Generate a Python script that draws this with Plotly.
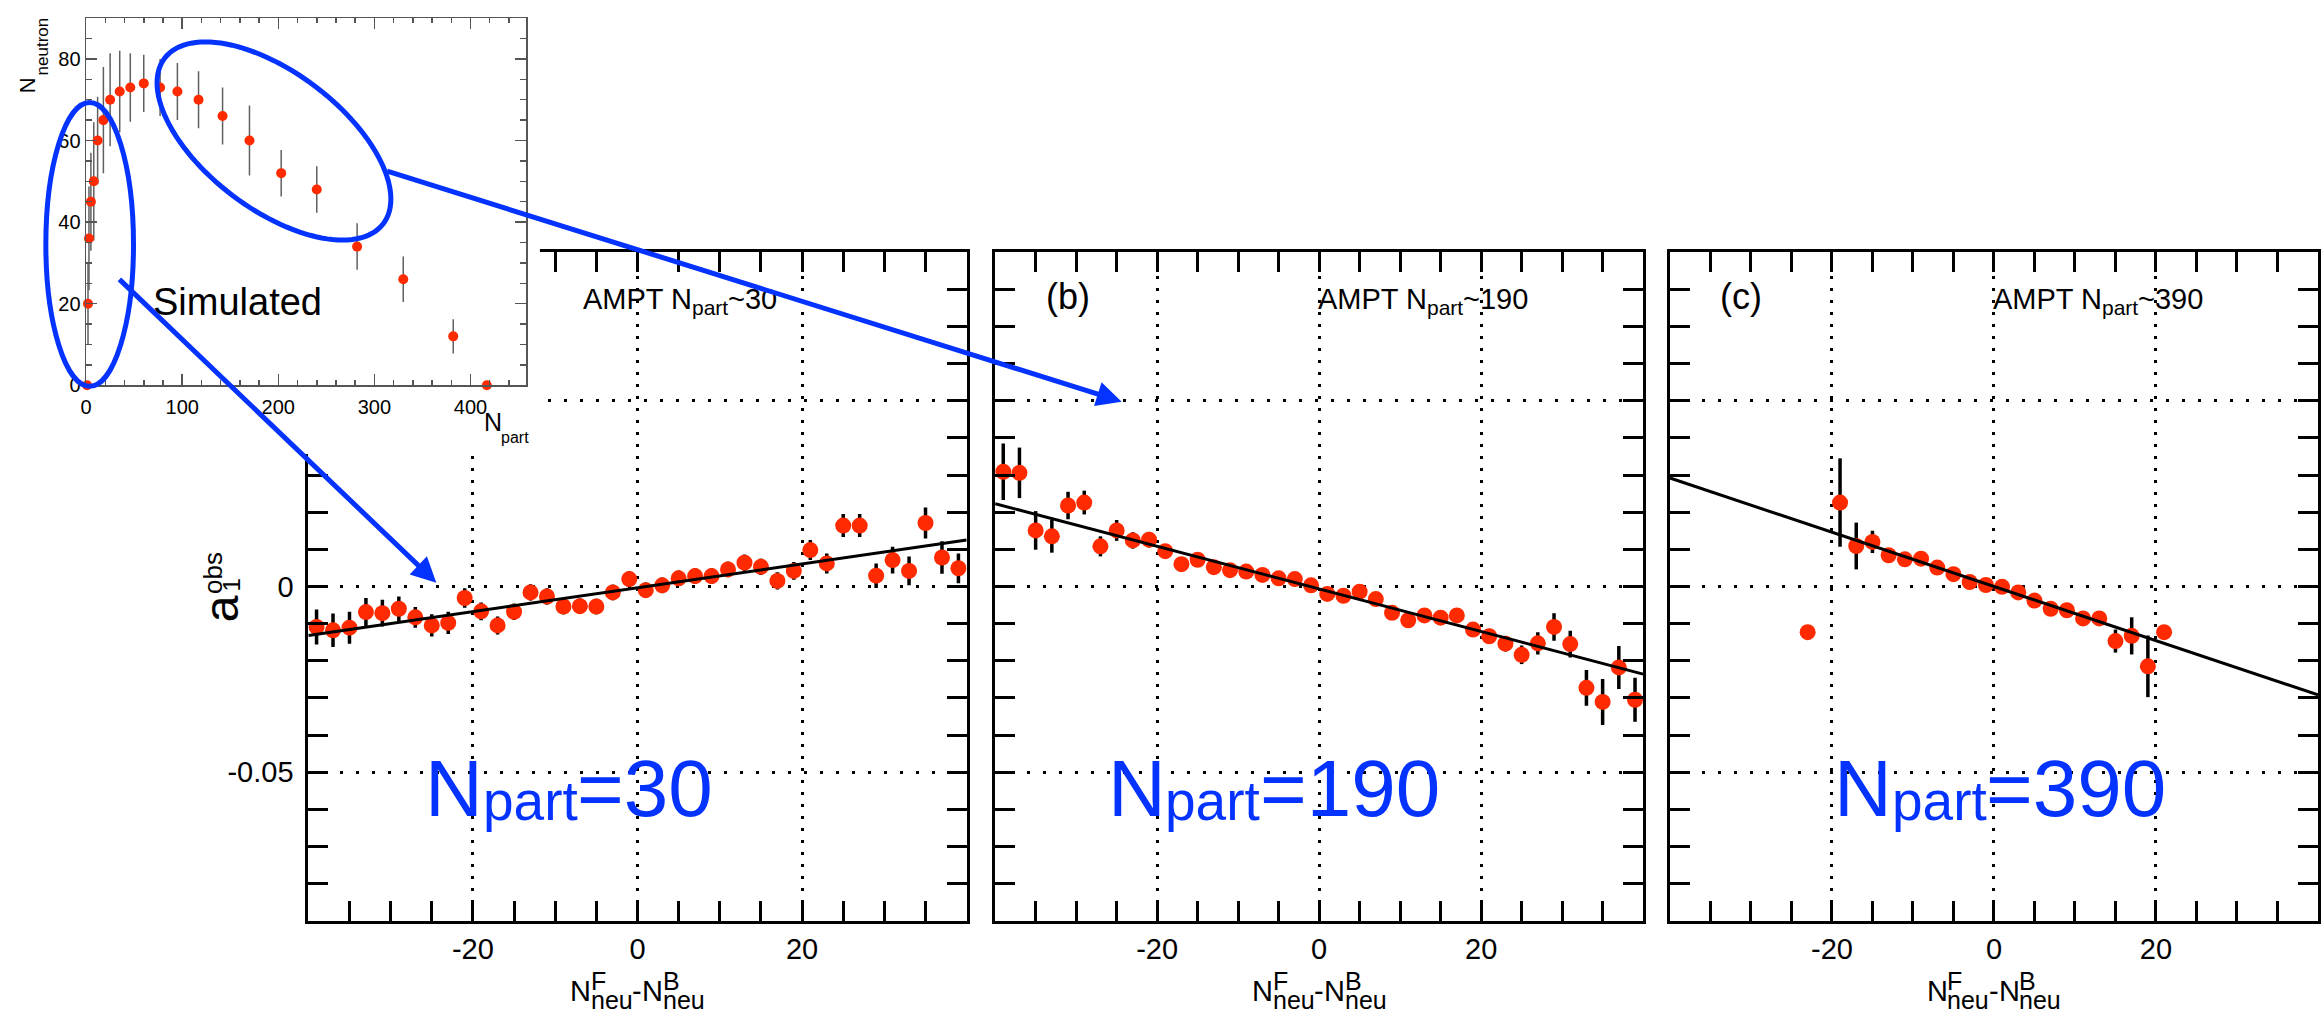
import numpy as np
import plotly.graph_objects as go

W, H = 2321, 1023
YOFF = 5          # small vertical calibration of the measured pixel positions
FONT = "Liberation Sans"
RED = "#ff2a00"
BLUE = "#0433ff"

# ---------------- data ----------------
bins_ab = [-39, -37, -35, -33, -31, -29, -27, -25, -23, -21, -19, -17, -15, -13, -11, -9, -7, -5, -3, -1,
           1, 3, 5, 7, 9, 11, 13, 15, 17, 19, 21, 23, 25, 27, 29, 31, 33, 35, 37, 39]

a_y = [-0.0109, -0.0118, -0.0111, -0.0069, -0.0072, -0.0060, -0.0083, -0.0105, -0.0098, -0.0031,
       -0.0067, -0.0105, -0.0068, -0.0016, -0.0027, -0.0054, -0.0053, -0.0054, -0.0016, 0.0020,
       -0.0010, 0.0003, 0.0022, 0.0028, 0.0028, 0.0046, 0.0064, 0.0053, 0.0015, 0.0042,
       0.0098, 0.0062, 0.0164, 0.0164, 0.0029, 0.0071, 0.0042, 0.0171, 0.0078, 0.0049]
a_err = [0.0047, 0.0045, 0.0043, 0.0038, 0.0036, 0.0033, 0.0028, 0.0030, 0.0030, 0.0026,
         0.0024, 0.0024, 0.0022, 0.0022, 0.0022, 0.0021, 0.0021, 0.0021, 0.0021, 0.0021,
         0.0021, 0.0021, 0.0021, 0.0021, 0.0021, 0.0021, 0.0022, 0.0022, 0.0023, 0.0024,
         0.0027, 0.0027, 0.0031, 0.0031, 0.0033, 0.0036, 0.0039, 0.0042, 0.0044, 0.0040]
a_fit_x = [-40, 40]
a_fit_y = [-0.0132, 0.0125]

b_y = [0.0309, 0.0306, 0.0151, 0.0135, 0.0218, 0.0226, 0.0108, 0.0151, 0.0124, 0.0126,
       0.0095, 0.0060, 0.0072, 0.0052, 0.0044, 0.0040, 0.0031, 0.0022, 0.0020, 0.0003,
       -0.0020, -0.0025, -0.0014, -0.0034, -0.0071, -0.0091, -0.0078, -0.0084, -0.0078, -0.0116,
       -0.0134, -0.0154, -0.0184, -0.0153, -0.0109, -0.0155, -0.0273, -0.0311, -0.0218, -0.0305]
b_err = [0.0076, 0.0068, 0.0052, 0.0044, 0.0037, 0.0032, 0.0027, 0.0028, 0.0022, 0.0021,
         0.0018, 0.0016, 0.0016, 0.0015, 0.0015, 0.0015, 0.0014, 0.0014, 0.0014, 0.0014,
         0.0014, 0.0014, 0.0015, 0.0015, 0.0015, 0.0016, 0.0016, 0.0017, 0.0017, 0.0018,
         0.0020, 0.0021, 0.0025, 0.0030, 0.0037, 0.0036, 0.0048, 0.0062, 0.0058, 0.0059]
b_fit_x = [-40, 40]
b_fit_y = [0.0223, -0.0236]

c_x = [-23, -19, -17, -15, -13, -11, -9, -7, -5, -3, -1, 1, 3, 5, 7, 9, 11, 13, 15, 17, 19, 21]
c_y = [-0.0123, 0.0226, 0.0109, 0.0120, 0.0084, 0.0073, 0.0075, 0.0051, 0.0033, 0.0012, 0.0004,
       -0.0001, -0.0016, -0.0038, -0.0060, -0.0064, -0.0086, -0.0086, -0.0147, -0.0133, -0.0215, -0.0123]
c_err = [0.0, 0.0119, 0.0063, 0.0030, 0.0015, 0.0012, 0.0012, 0.0012, 0.0012, 0.0012, 0.0012,
         0.0012, 0.0012, 0.0012, 0.0012, 0.0012, 0.0012, 0.0015, 0.0031, 0.0050, 0.0083, 0.0]
c_fit_x = [-40, 40]
c_fit_y = [0.0292, -0.0292]

ins_x = [1, 2, 3, 5, 8, 12, 18, 25, 35, 46, 60, 77, 95, 117, 142, 170, 203, 240, 282, 330, 382, 417]
ins_y = [0, 20, 36, 45, 50, 60, 65, 70, 72, 73, 74, 73, 72, 70, 66, 60, 52, 48, 34, 26, 12, 0]
ins_err = [0, 10, 12.7, 12, 14.5, 10.7, 13, 11.4, 10, 8.4, 7, 7, 7, 7, 7, 8.6, 5.7, 5.7, 5.7, 5.6, 4.2, 0]

x_tickvals = [-20, 0, 20]
x_ticktext = ["-20", "0", "20"]
y_tickvals = [-0.05, 0, 0.05]
y_ticktext = ["-0.05", "0", ""]   # the 0.05 label is hidden behind the inset in the original
ins_xtickvals = [0, 100, 200, 300, 400]
ins_xticktext = ["0", "100", "200", "300", "400"]
ins_ytickvals = [0, 20, 40, 60, 80]
ins_yticktext = ["0", "20", "40", "60", "80"]

panel_tags = ["(b)", "(c)"]
model_labels = ["~30", "~190", "~390"]
big_labels = ["=30", "=190", "=390"]

# ---------------- helpers ----------------
def px(x):
    return x / W


def py(y, off=YOFF):
    return 1 - (y + off) / H


ARIAL = {"A": 667, "M": 833, "P": 667, "T": 611, " ": 278, "N": 722, "p": 556, "a": 556, "r": 333,
         "t": 278, "~": 584, "=": 584, "(": 333, ")": 333, "b": 556, "c": 500, "-": 333, "F": 611,
         "B": 667, "n": 556, "e": 556, "u": 556, "o": 556, "s": 500, "S": 667, "i": 222, "m": 833,
         "l": 222, "d": 556}


def tw(s, size):
    return sum(ARIAL.get(ch, 556) for ch in s) / 1000.0 * size


fig = go.Figure()


def label(text, x_left, base, size, color="black", off=YOFF):
    fig.add_annotation(text=text, xref="paper", yref="paper", x=px(x_left),
                       y=py(base - 0.3465 * size, off),
                       xanchor="left", yanchor="middle", showarrow=False, borderpad=0, borderwidth=0,
                       font=dict(family=FONT, size=size, color=color))


def rlabel(text, cx, cy, size, color="black"):
    fig.add_annotation(text=text, xref="paper", yref="paper", x=px(cx), y=py(cy), textangle=-90,
                       xanchor="center", yanchor="middle", showarrow=False, borderpad=0, borderwidth=0,
                       font=dict(family=FONT, size=size, color=color))


def sub_text(main1, subs, main2, x0, base, fm, fs, dsub, color="black"):
    label(main1, x0, base, fm, color)
    x1 = x0 + tw(main1, fm)
    label(subs, x1, base + dsub, fs, color)
    x2 = x1 + tw(subs, fs)
    label(main2, x2, base, fm, color)


def xtitle(center, off=2):
    fm, fs = 29, 25
    total = 2 * tw("N", fm) + 2 * tw("neu", fs) + tw("-", fm)
    x = center - total / 2
    label("N", x, 1010, fm, off=off)
    x += tw("N", fm)
    label("F", x, 998, fs, off=off)
    label("neu", x, 1018, fs, off=off)
    x += tw("neu", fs)
    label("-", x, 1010, fm, off=off)
    x += tw("-", fm)
    label("N", x, 1010, fm, off=off)
    x += tw("N", fm)
    label("B", x, 998, fs, off=off)
    label("neu", x, 1018, fs, off=off)


def ghost(xa, ya):
    fig.add_trace(go.Scatter(x=[None], y=[None], xaxis=xa, yaxis=ya, mode="markers",
                             showlegend=False, hoverinfo="skip"))


# ---------------- traces ----------------
def add_panel(xs, ys, errs, fx, fy, xa, ya):
    fig.add_trace(go.Scatter(x=xs, y=ys, mode="markers", xaxis=xa, yaxis=ya, showlegend=False,
                             marker=dict(color=RED, size=16, line=dict(width=0)),
                             error_y=dict(type="data", array=errs, visible=True, color="black",
                                          thickness=3.5, width=0)))
    fig.add_trace(go.Scatter(x=fx, y=fy, mode="lines", xaxis=xa, yaxis=ya, showlegend=False,
                             line=dict(color="black", width=3)))


add_panel(bins_ab, a_y, a_err, a_fit_x, a_fit_y, "x", "y")
add_panel(bins_ab, b_y, b_err, b_fit_x, b_fit_y, "x2", "y2")
add_panel(c_x, c_y, c_err, c_fit_x, c_fit_y, "x3", "y3")

# white cover for inset region
fig.add_trace(go.Scatter(x=[0], y=[0], xaxis="x4", yaxis="y4", mode="markers",
                         marker=dict(opacity=0), showlegend=False, hoverinfo="skip"))

# inset
fig.add_trace(go.Scatter(x=ins_x, y=ins_y, mode="markers", xaxis="x5", yaxis="y5", showlegend=False,
                         cliponaxis=False,
                         marker=dict(color=RED, size=10, line=dict(width=0)),
                         error_y=dict(type="data", array=ins_err, visible=True, color="#606060",
                                      thickness=1.5, width=0)))

# ---------------- axes ----------------
tickfont = dict(family=FONT, size=29, color="black")
MAIN_MINOR_X = dict(dtick=5, tick0=0, ticks="inside", ticklen=11, tickwidth=3, tickcolor="black",
                    showgrid=False)
MAIN_MINOR_Y = dict(dtick=0.01, tick0=0, ticks="inside", ticklen=11, tickwidth=3, tickcolor="black",
                    showgrid=False)


def main_x(dom, anchor):
    return dict(domain=dom, anchor=anchor, range=[-40, 40], tickmode="array", tickvals=x_tickvals,
                ticktext=x_ticktext, ticks="inside", ticklen=20, tickwidth=3, tickcolor="black",
                showline=True, linewidth=3, linecolor="black", mirror="allticks",
                showgrid=True, gridcolor="black", gridwidth=3, griddash="3px,9px", zeroline=False,
                minor=MAIN_MINOR_X, tickfont=tickfont, ticklabelstandoff=1, fixedrange=True)


def main_y(dom, anchor, labels):
    return dict(domain=dom, anchor=anchor, range=[-0.09, 0.09], tickmode="array", tickvals=y_tickvals,
                ticktext=y_ticktext, ticks="inside", ticklen=20, tickwidth=3, tickcolor="black",
                showline=True, linewidth=3, linecolor="black", mirror="allticks",
                showgrid=True, gridcolor="black", gridwidth=3, griddash="3px,13px", zeroline=False,
                minor=MAIN_MINOR_Y, showticklabels=labels, tickfont=tickfont, ticklabelstandoff=6,
                fixedrange=True)


def top_x(over, anchor):
    return dict(overlaying=over, anchor=anchor, side="top", range=[-40, 40], tickmode="array",
                tickvals=x_tickvals, ticks="inside", ticklen=20, tickwidth=3, tickcolor="black",
                showticklabels=False, showline=False, showgrid=False, zeroline=False,
                minor=MAIN_MINOR_X, fixedrange=True)


def right_y(over, anchor):
    return dict(overlaying=over, anchor=anchor, side="right", range=[-0.09, 0.09], tickmode="array",
                tickvals=y_tickvals, ticks="inside", ticklen=20, tickwidth=3, tickcolor="black",
                showticklabels=False, showline=False, showgrid=False, zeroline=False,
                minor=MAIN_MINOR_Y, fixedrange=True)


ydom = [py(925.7), py(250)]
inset_tick = dict(family=FONT, size=20, color="black")
GRAY = "#555555"
INS_MINOR_X = dict(dtick=20, tick0=0, ticks="inside", ticklen=5, tickwidth=1.5, tickcolor=GRAY)
INS_MINOR_Y = dict(dtick=5, tick0=0, ticks="inside", ticklen=6, tickwidth=1.5, tickcolor=GRAY)

fig.update_layout(
    width=W, height=H, autosize=False,
    margin=dict(l=0, r=0, t=0, b=0, pad=0),
    paper_bgcolor="white", plot_bgcolor="white",
    showlegend=False,
    xaxis=main_x([px(303.5), px(964.4)], "y"),
    yaxis=main_y(ydom, "x", True),
    xaxis2=main_x([px(993), px(1643.5)], "y2"),
    yaxis2=main_y(ydom, "x2", False),
    xaxis3=main_x([px(1670.4), 1.0], "y3"),
    yaxis3=main_y(ydom, "x3", False),
    xaxis4=dict(domain=[0, px(536)], anchor="y4", visible=False, range=[0, 1], fixedrange=True),
    yaxis4=dict(domain=[py(454), 1], anchor="x4", visible=False, range=[0, 1], fixedrange=True),
    xaxis5=dict(domain=[px(80.4), px(522.3)], anchor="y5", range=[0, 458], tickmode="array",
                tickvals=ins_xtickvals, ticktext=ins_xticktext, ticks="inside", ticklen=11,
                tickwidth=1.5, tickcolor=GRAY, showline=True, linewidth=1.5, linecolor=GRAY,
                mirror=True, showgrid=False, zeroline=False, minor=INS_MINOR_X,
                tickfont=inset_tick, ticklabelstandoff=3, fixedrange=True),
    yaxis5=dict(domain=[py(384.5), py(13.3)], anchor="x5", range=[0, 90], tickmode="array",
                tickvals=ins_ytickvals, ticktext=ins_yticktext, ticks="inside", ticklen=11,
                tickwidth=1.5, tickcolor=GRAY, showline=True, linewidth=1.5, linecolor=GRAY,
                mirror=True, showgrid=False, zeroline=False, minor=INS_MINOR_Y,
                tickfont=inset_tick, fixedrange=True),
    xaxis6=top_x("x", "y"),
    yaxis6=right_y("y", "x"),
    xaxis7=top_x("x2", "y2"),
    yaxis7=right_y("y2", "x2"),
    xaxis8=top_x("x3", "y3"),
    yaxis8=right_y("y3", "x3"),
    xaxis9=dict(overlaying="x5", anchor="y5", side="top", range=[0, 458], tickmode="array",
                tickvals=ins_xtickvals, ticks="inside", ticklen=11, tickwidth=1.5, tickcolor=GRAY,
                showticklabels=False, showline=False, showgrid=False, zeroline=False,
                minor=INS_MINOR_X, fixedrange=True),
    yaxis9=dict(overlaying="y5", anchor="x5", side="right", range=[0, 90], tickmode="array",
                tickvals=ins_ytickvals, ticks="inside", ticklen=11, tickwidth=1.5, tickcolor=GRAY,
                showticklabels=False, showline=False, showgrid=False, zeroline=False,
                minor=INS_MINOR_Y, fixedrange=True),
)

for xa, ya in [("x6", "y"), ("x", "y6"), ("x7", "y2"), ("x2", "y7"), ("x8", "y3"), ("x3", "y8"),
               ("x9", "y5"), ("x5", "y9")]:
    ghost(xa, ya)

# ---------------- texts ----------------
sub_text("AMPT N", "part", model_labels[0], 579, 307, 29, 21, 6)
label(panel_tags[0], 1044, 307, 36)
sub_text("AMPT N", "part", model_labels[1], 1317, 307, 29, 21, 6)
label(panel_tags[1], 1721, 307, 36)
sub_text("AMPT N", "part", model_labels[2], 1995, 307, 29, 21, 6)

sub_text("N", "part", big_labels[0], 421, 820, 80, 55, 4, BLUE)
sub_text("N", "part", big_labels[1], 1106, 820, 80, 55, 4, BLUE)
sub_text("N", "part", big_labels[2], 1835.5, 820, 80, 55, 4, BLUE)

for c in [633.5, 1318.3, 1995.5]:
    xtitle(c)

rlabel("a", 216.7, 610, 48)
rlabel("obs", 208, 574, 26)
rlabel("1", 226.7, 586, 24)

rlabel("N", 21.7, 81.5, 22)
rlabel("neutron", 37.1, 42, 17)
label("N", 480, 430, 25)
label("part", 497, 443, 16)
label("Simulated", 148, 313, 38)

# ---------------- ellipses & arrows ----------------
fig.add_shape(type="circle", xref="paper", yref="paper", x0=px(40), x1=px(128), y0=py(385.5), y1=py(98.5),
              line=dict(color=BLUE, width=5), layer="above")

cx, cy, ea, eb, th = 269, 137.5, 138, 69, np.deg2rad(37.4)
t = np.linspace(0, 2 * np.pi, 121)
ex = cx + ea * np.cos(t) * np.cos(th) - eb * np.sin(t) * np.sin(th)
ey = cy + ea * np.cos(t) * np.sin(th) + eb * np.sin(t) * np.cos(th)
path = "M " + " L ".join(f"{px(u):.5f},{py(v):.5f}" for u, v in zip(ex, ey)) + " Z"
fig.add_shape(type="path", path=path, xref="paper", yref="paper", line=dict(color=BLUE, width=5),
              layer="above")


def arrow(tail, head):
    fig.add_annotation(x=px(head[0]), y=py(head[1]), xref="paper", yref="paper",
                       ax=tail[0] - head[0], ay=tail[1] - head[1], axref="pixel", ayref="pixel",
                       text="", showarrow=True, arrowhead=2, arrowsize=1, arrowwidth=5,
                       arrowcolor=BLUE, standoff=0, startstandoff=0)


arrow((113.6, 279.3), (432, 584))
arrow((384, 170), (1120, 401))

fig.write_html("out.html", config={"displayModeBar": False, "staticPlot": True},
               post_script="document.body.style.margin='0px';document.body.style.overflow='hidden';")
